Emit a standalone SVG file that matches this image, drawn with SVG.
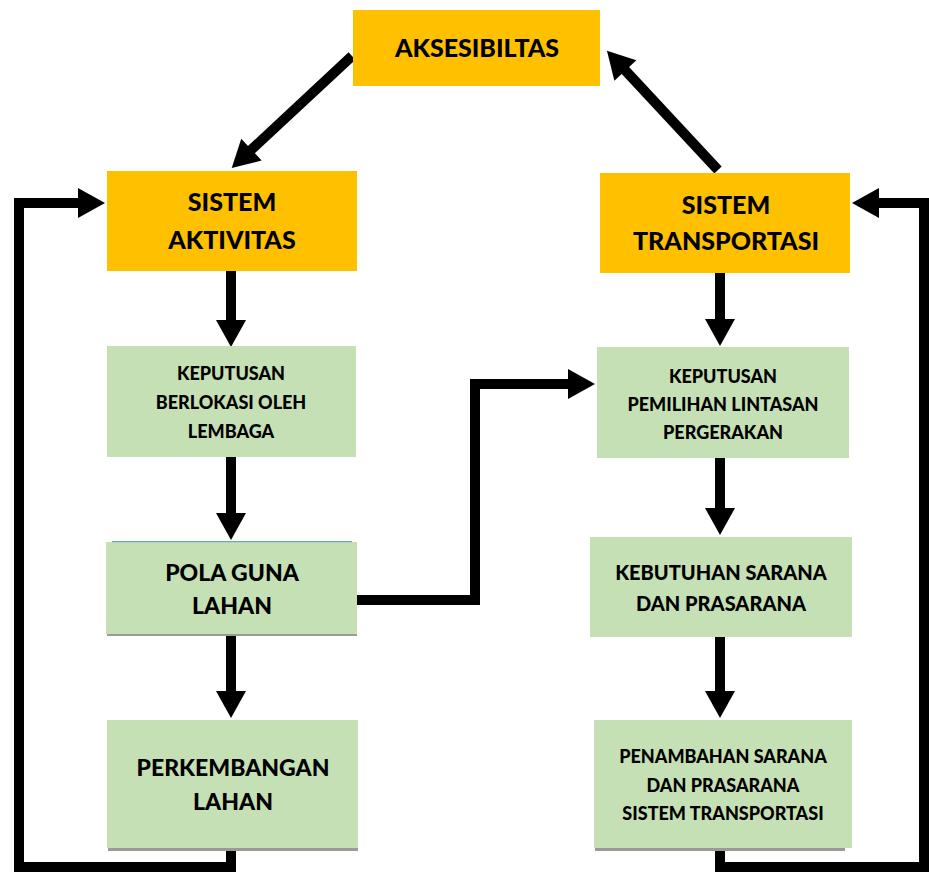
<svg xmlns="http://www.w3.org/2000/svg" width="929" height="874" viewBox="0 0 929 874">
<defs>
<style>
.orange{fill:#FFC000;}
.green{fill:#C5E0B4;}
.shadow{fill:#9a9a9a;}
text{font-family:Lato,"Liberation Sans",sans-serif;font-weight:900;fill:#000;text-anchor:middle;}
.big{font-size:25px;}
.mid{font-size:23px;}
.med{font-size:20px;}
.sml{font-size:18px;}
.conn{fill:none;stroke:#000;stroke-width:10;stroke-linejoin:miter;}
</style>
<marker id="ah" markerUnits="userSpaceOnUse" markerWidth="30" markerHeight="32" viewBox="0 -16 28 32" refX="2" refY="0" orient="auto">
<path d="M0,-15 L27,0 L0,15 z" fill="#000"/>
</marker>
</defs>
<rect width="929" height="874" fill="#fff"/>

<g id="connectors">
<path class="conn" d="M352,56 L250,151" marker-end="url(#ah)"/>
<path class="conn" d="M718,170 L624,69" marker-end="url(#ah)"/>
<path class="conn" d="M231,271 L231,322" marker-end="url(#ah)"/>
<path class="conn" d="M231,457 L231,515" marker-end="url(#ah)"/>
<path class="conn" d="M231,635 L231,693" marker-end="url(#ah)"/>
<path class="conn" d="M720,273 L720,321" marker-end="url(#ah)"/>
<path class="conn" d="M720,458 L720,510" marker-end="url(#ah)"/>
<path class="conn" d="M720,637 L720,693" marker-end="url(#ah)"/>
<path class="conn" d="M357,600 L475,600 L475,384 L570,384" marker-end="url(#ah)"/>
<path class="conn" d="M231,850 L231,867 L19,867 L19,203 L80,203" marker-end="url(#ah)"/>
<path class="conn" d="M720,850 L720,867 L924,867 L924,203 L877,203" marker-end="url(#ah)"/>
</g>

<g id="aksesibilitas">
<rect class="orange" x="353" y="10" width="247" height="76"/>
<text class="big" x="477" y="57">AKSESIBILTAS</text>
</g>

<g id="sistem-aktivitas">
<rect class="orange" x="107" y="171" width="250" height="100"/>
<text class="big" x="232" y="211">SISTEM</text>
<text class="big" x="232" y="249">AKTIVITAS</text>
</g>

<g id="sistem-transportasi">
<rect class="orange" x="600" y="173" width="250" height="100"/>
<text class="big" x="726" y="214">SISTEM</text>
<text class="big" x="726" y="250">TRANSPORTASI</text>
</g>

<g id="keputusan-berlokasi">
<rect class="green" x="107" y="346" width="249" height="111"/>
<text class="sml" x="231" y="380">KEPUTUSAN</text>
<text class="sml" x="231" y="409">BERLOKASI OLEH</text>
<text class="sml" x="231" y="438">LEMBAGA</text>
</g>

<g id="pola-guna-lahan">
<rect class="shadow" x="107" y="633" width="250" height="3"/>
<rect class="green" x="106" y="542" width="251" height="92"/>
<rect x="112" y="541" width="240" height="1.2" fill="#6f9fd8"/>
<text class="mid" x="232" y="581">POLA GUNA</text>
<text class="mid" x="232" y="614">LAHAN</text>
</g>

<g id="perkembangan-lahan">
<rect class="shadow" x="108" y="848" width="250" height="3"/>
<rect class="green" x="107" y="720" width="251" height="128"/>
<text class="mid" x="233" y="776">PERKEMBANGAN</text>
<text class="mid" x="233" y="810">LAHAN</text>
</g>

<g id="keputusan-pemilihan">
<rect class="green" x="597" y="347" width="252" height="111"/>
<text class="sml" x="723" y="383">KEPUTUSAN</text>
<text class="sml" x="723" y="411">PEMILIHAN LINTASAN</text>
<text class="sml" x="723" y="439">PERGERAKAN</text>
</g>

<g id="kebutuhan-sarana">
<rect class="green" x="590" y="537" width="262" height="100"/>
<text class="med" x="721" y="580">KEBUTUHAN SARANA</text>
<text class="med" x="721" y="611">DAN PRASARANA</text>
</g>

<g id="penambahan-sarana">
<rect class="shadow" x="595" y="848" width="250" height="3"/>
<rect class="green" x="594" y="720" width="258" height="128"/>
<text class="sml" x="723" y="763">PENAMBAHAN SARANA</text>
<text class="sml" x="723" y="792">DAN PRASARANA</text>
<text class="sml" x="723" y="820">SISTEM TRANSPORTASI</text>
</g>
</svg>
